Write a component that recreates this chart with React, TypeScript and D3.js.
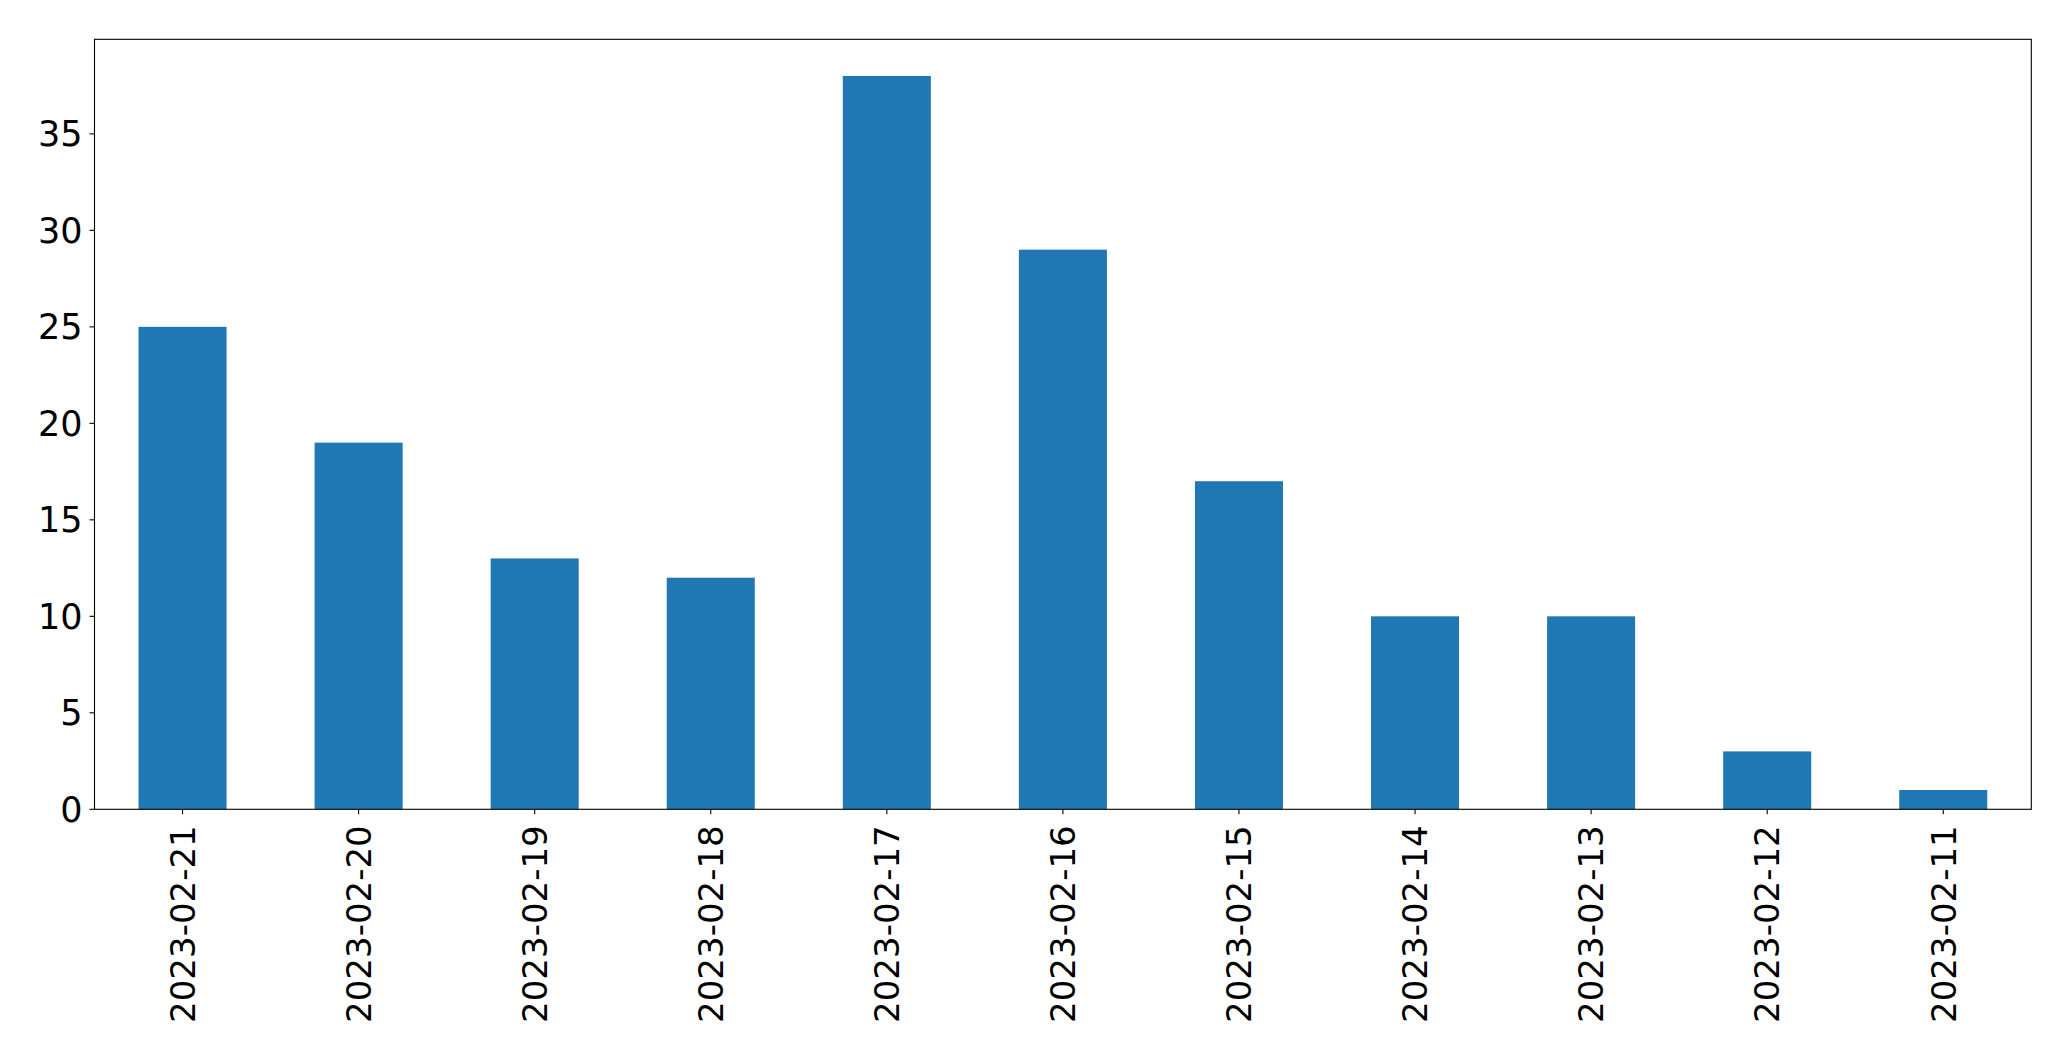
import React from "react";
import * as d3 from "d3";

const categories = ["2023-02-21","2023-02-20","2023-02-19","2023-02-18","2023-02-17","2023-02-16","2023-02-15","2023-02-14","2023-02-13","2023-02-12","2023-02-11"];
const values = [25, 19, 13, 12, 38, 29, 17, 10, 10, 3, 1];
const yTicks = [0, 5, 10, 15, 20, 25, 30, 35];

const W = 2071, H = 1061;
const left = 94.5, right = 2031.3, top = 39.3, bottom = 809.3;
const FONT = "'DejaVu Sans', sans-serif";
const FS = 34;

export default function App() {
  const x = d3.scaleLinear().domain([-0.5, categories.length - 0.5]).range([left, right]);
  const y = d3.scaleLinear().domain([0, 38 * 1.05]).range([bottom, top]);
  const bw = x(0.25) - x(-0.25);
  return (
    <svg width={W} height={H} style={{ position: "absolute", left: 0, top: 0, background: "#fff" }}>
      <rect x={0} y={0} width={W} height={H} fill="#fff" />
      {values.map((v, i) => (
        <rect key={i} x={x(i) - bw / 2} y={y(v)} width={bw} height={y(0) - y(v)} fill="#1f77b4" />
      ))}
      <rect x={left} y={top} width={right - left} height={bottom - top} fill="none" stroke="#000" strokeWidth={1.1} />
      {yTicks.map((t) => (
        <g key={t}>
          <line x1={left - 5} x2={left} y1={y(t)} y2={y(t)} stroke="#000" strokeWidth={1.1} />
          <text x={left - 12} y={y(t)} dy="0.36em" textAnchor="end" fontFamily={FONT} fontSize={35} fill="#000">{t}</text>
        </g>
      ))}
      {categories.map((c, i) => (
        <g key={c}>
          <line x1={x(i)} x2={x(i)} y1={bottom} y2={bottom + 5} stroke="#000" strokeWidth={1.1} />
          <text transform={`translate(${x(i)},${bottom + 16}) rotate(-90)`} dy="0.36em" textAnchor="end" fontFamily={FONT} fontSize={FS} fill="#000">{c}</text>
        </g>
      ))}
    </svg>
  );
}
